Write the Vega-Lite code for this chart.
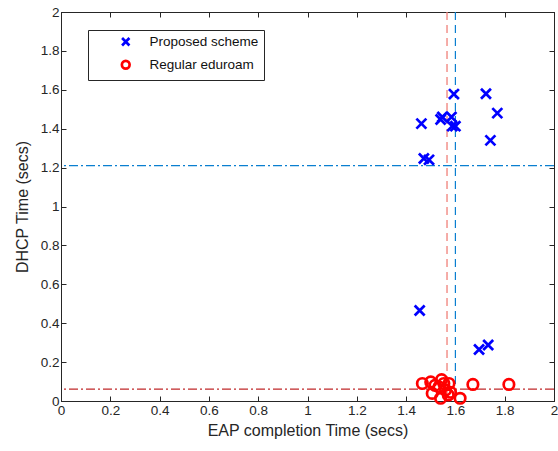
{
  "$schema": "https://vega.github.io/schema/vega-lite/v6.json",
  "width": 493,
  "height": 389,
  "padding": {"left": 14, "top": 5, "right": 3, "bottom": 5},
  "config": {
    "font": "Liberation Sans",
    "view": {"stroke": "#262626", "strokeWidth": 1},
    "axis": {
      "domainColor": "#262626",
      "tickColor": "#262626",
      "tickSize": -5,
      "labelColor": "#262626",
      "titleColor": "#262626",
      "labelFontSize": 13.5,
      "titleFontSize": 16,
      "titleFontWeight": "normal",
      "grid": false,
      "labelPadding": 7,
      "labelOverlap": false,
      "labelFlush": false,
      "format": "~g",
      "values": [0, 0.2, 0.4, 0.6, 0.8, 1, 1.2, 1.4, 1.6, 1.8, 2]
    }
  },
  "datasets": {
    "pts": [
      {"eap": 1.594, "dhcp": 1.578, "series": "Proposed scheme"},
      {"eap": 1.724, "dhcp": 1.58, "series": "Proposed scheme"},
      {"eap": 1.77, "dhcp": 1.48, "series": "Proposed scheme"},
      {"eap": 1.742, "dhcp": 1.34, "series": "Proposed scheme"},
      {"eap": 1.547, "dhcp": 1.46, "series": "Proposed scheme"},
      {"eap": 1.54, "dhcp": 1.447, "series": "Proposed scheme"},
      {"eap": 1.584, "dhcp": 1.46, "series": "Proposed scheme"},
      {"eap": 1.587, "dhcp": 1.413, "series": "Proposed scheme"},
      {"eap": 1.60, "dhcp": 1.413, "series": "Proposed scheme"},
      {"eap": 1.462, "dhcp": 1.426, "series": "Proposed scheme"},
      {"eap": 1.472, "dhcp": 1.247, "series": "Proposed scheme"},
      {"eap": 1.493, "dhcp": 1.24, "series": "Proposed scheme"},
      {"eap": 1.455, "dhcp": 0.465, "series": "Proposed scheme"},
      {"eap": 1.696, "dhcp": 0.265, "series": "Proposed scheme"},
      {"eap": 1.733, "dhcp": 0.288, "series": "Proposed scheme"},
      {"eap": 1.466, "dhcp": 0.09, "series": "Regular eduroam"},
      {"eap": 1.50, "dhcp": 0.098, "series": "Regular eduroam"},
      {"eap": 1.544, "dhcp": 0.11, "series": "Regular eduroam"},
      {"eap": 1.574, "dhcp": 0.09, "series": "Regular eduroam"},
      {"eap": 1.533, "dhcp": 0.073, "series": "Regular eduroam"},
      {"eap": 1.506, "dhcp": 0.039, "series": "Regular eduroam"},
      {"eap": 1.54, "dhcp": 0.014, "series": "Regular eduroam"},
      {"eap": 1.571, "dhcp": 0.031, "series": "Regular eduroam"},
      {"eap": 1.56, "dhcp": 0.056, "series": "Regular eduroam"},
      {"eap": 1.619, "dhcp": 0.014, "series": "Regular eduroam"},
      {"eap": 1.671, "dhcp": 0.085, "series": "Regular eduroam"},
      {"eap": 1.817, "dhcp": 0.085, "series": "Regular eduroam"},
      {"eap": 1.517, "dhcp": 0.08, "series": "Regular eduroam"},
      {"eap": 1.553, "dhcp": 0.09, "series": "Regular eduroam"},
      {"eap": 1.58, "dhcp": 0.045, "series": "Regular eduroam"}
    ],
    "vlines": [
      {"x": 1.566, "kind": "red"},
      {"x": 1.60, "kind": "blue"}
    ],
    "hlines": [
      {"y": 1.21, "kind": "blue"},
      {"y": 0.061, "kind": "red"}
    ]
  },
  "layer": [
    {
      "data": {"name": "vlines"},
      "transform": [{"filter": "datum.kind == 'red'"}],
      "mark": {"type": "rule", "strokeDash": [8, 5], "strokeWidth": 1.3, "color": "#f0807a"},
      "encoding": {
        "x": {"field": "x", "type": "quantitative", "scale": {"domain": [0, 2], "nice": false},
              "axis": {"orient": "top", "labels": false, "title": null}}
      }
    },
    {
      "data": {"name": "vlines"},
      "transform": [{"filter": "datum.kind == 'blue'"}],
      "mark": {"type": "rule", "strokeDash": [8, 5], "strokeWidth": 1.2, "color": "#0a7fd0"},
      "encoding": {
        "x": {"field": "x", "type": "quantitative", "axis": null}
      }
    },
    {
      "data": {"name": "hlines"},
      "transform": [{"filter": "datum.kind == 'blue'"}],
      "mark": {"type": "rule", "strokeDash": [9, 3, 2, 3], "strokeWidth": 1.1, "color": "#0a7fd0"},
      "encoding": {
        "y": {"field": "y", "type": "quantitative", "scale": {"domain": [0, 2], "nice": false},
              "axis": {"orient": "right", "labels": false, "title": null}}
      }
    },
    {
      "data": {"name": "hlines"},
      "transform": [{"filter": "datum.kind == 'red'"}],
      "mark": {"type": "rule", "strokeDash": [9, 3, 2, 3], "strokeWidth": 1.1, "color": "#c0282a"},
      "encoding": {
        "y": {"field": "y", "type": "quantitative", "axis": null}
      }
    },
    {
      "data": {"name": "pts"},
      "mark": {"type": "point", "filled": false, "size": 110, "strokeWidth": 2.7, "opacity": 1},
      "encoding": {
        "x": {
          "field": "eap", "type": "quantitative",
          "scale": {"domain": [0, 2], "nice": false, "zero": false},
          "axis": {"orient": "bottom", "title": "EAP completion Time (secs)", "titlePadding": 6}
        },
        "y": {
          "field": "dhcp", "type": "quantitative",
          "scale": {"domain": [0, 2], "nice": false, "zero": false},
          "axis": {"orient": "left", "title": "DHCP Time (secs)", "titlePadding": 10}
        },
        "color": {
          "field": "series", "type": "nominal",
          "scale": {"domain": ["Proposed scheme", "Regular eduroam"], "range": ["#0000ff", "#ff0000"]},
          "legend": {
            "title": null, "orient": "none", "legendX": 27, "legendY": 18,
            "strokeColor": "#262626", "fillColor": "white",
            "padding": 5, "labelFontSize": 13.5, "labelColor": "#111",
            "symbolStrokeWidth": 2.7, "symbolSize": 60, "rowPadding": 4,
            "labelOffset": 17, "symbolOffset": 26
          }
        },
        "shape": {
          "field": "series", "type": "nominal",
          "scale": {"domain": ["Proposed scheme", "Regular eduroam"], "range": ["M-0.95,-0.95L0.95,0.95M-0.95,0.95L0.95,-0.95", "circle"]},
          "legend": {
            "title": null, "orient": "none", "legendX": 27, "legendY": 18,
            "strokeColor": "#262626", "fillColor": "white",
            "padding": 5, "labelFontSize": 13.5, "labelColor": "#111",
            "symbolStrokeWidth": 2.7, "symbolSize": 60, "rowPadding": 4,
            "labelOffset": 17, "symbolOffset": 26
          }
        }
      }
    }
  ],
  "resolve": {"axis": {"x": "independent", "y": "independent"}}
}
